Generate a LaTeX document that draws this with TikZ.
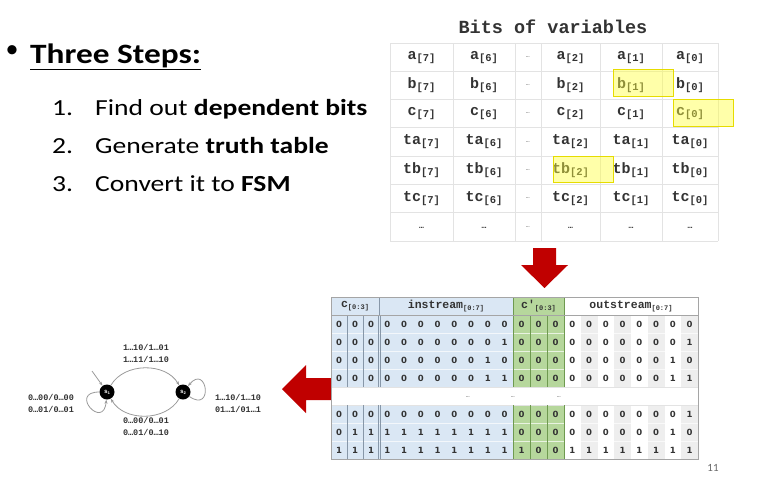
\documentclass[tikz,border=0pt]{standalone}
\usepackage{fontspec}
\setmainfont{Carlito}
\newfontfamily\codefont{Liberation Mono}
\newfontfamily\digitfont{DejaVu Sans}
\usetikzlibrary{arrows.meta,positioning}
\definecolor{gridgrey}{HTML}{E3E3E3}
\definecolor{hlyellow}{HTML}{FFFF40}
\definecolor{hlborder}{HTML}{E6DC00}
\definecolor{tblue}{HTML}{DAE7F4}
\definecolor{tgreen}{HTML}{B6D79C}
\definecolor{tgreenline}{HTML}{6F9A50}
\definecolor{tblueline}{HTML}{8797A8}
\definecolor{tstripe}{HTML}{EEEEEE}
\definecolor{tborder}{HTML}{A5A5A5}
\definecolor{arrowred}{HTML}{C00000}
\definecolor{inkgrey}{HTML}{333333}
\definecolor{fsmgrey}{HTML}{9A9A9A}

\newcommand{\bitsub}[2]{#1\raisebox{-2pt}{\fontsize{10.5}{10.5}\selectfont[#2]}}
\newcommand{\colsub}[2]{#1\raisebox{-2pt}{\fontsize{7}{7}\selectfont[#2]}}
\newcommand{\wide}[2]{\scalebox{#1}[1]{#2}}

\begin{document}
\begin{tikzpicture}[
    x=1pt, y=-1pt,
    bitcell/.style={font=\codefont\bfseries\fontsize{15}{15}\selectfont, text=inkgrey, inner sep=0pt},
    dotcell/.style={font=\codefont\bfseries\fontsize{8}{8}\selectfont, text=inkgrey, inner sep=0pt},
    hl/.style={fill=hlyellow, fill opacity=0.45, draw=hlborder, line width=0.8pt},
    grid/.style={draw=gridgrey, line width=0.8pt},
    colhead/.style={font=\codefont\bfseries\fontsize{11.5}{11.5}\selectfont, text=inkgrey, inner sep=0pt},
    digit/.style={font=\digitfont\bfseries\fontsize{8.5}{8.5}\selectfont, text=inkgrey, inner sep=0pt},
    state/.style={circle, fill=black, minimum size=15pt, inner sep=0pt, text=white,
        font=\codefont\bfseries\fontsize{6}{6}\selectfont},
    fsmarr/.style={-{Stealth[length=4pt, width=3pt]}, draw=fsmgrey, line width=0.8pt},
    fsmlabel/.style={font=\codefont\bfseries\fontsize{8.5}{12}\selectfont, text=inkgrey, align=center},
    steptext/.style={anchor=base west, inner sep=0pt, font=\fontsize{23}{26}\selectfont},
]
\useasboundingbox (0,0) rectangle (759,480);

% ── Three steps ──
\node[font=\fontsize{26}{30}\selectfont, inner sep=0pt] (bullet) at (12,52) {\textbullet};
\node[anchor=base west, inner sep=0pt, font=\fontsize{28}{30}\selectfont\bfseries] (title) at (30,63)
    {\wide{1.19}{\underline{Three Steps:}}};
\node[steptext] (num1) at (52,115) {\wide{1.2}{1.}};
\node[steptext] (step1) at (95,115) {\wide{1.2}{Find out \textbf{dependent bits}}};
\node[steptext] (num2) at (52,153) {\wide{1.2}{2.}};
\node[steptext] (step2) at (95,153) {\wide{1.2}{Generate \textbf{truth table}}};
\node[steptext] (num3) at (52,191) {\wide{1.2}{3.}};
\node[steptext] (step3) at (95,191) {\wide{1.2}{Convert it to \textbf{FSM}}};

% ── Bits of variables ──
\node[font=\codefont\bfseries\fontsize{18.5}{18.5}\selectfont, text=inkgrey, anchor=base] (bitstitle) at (553,33) {Bits of variables};
\foreach \x in {390,453,515,541,600,662,718}
    \draw[grid] (\x,43) -- (\x,241);
\foreach \i in {0,...,7}
    \draw[grid] (390,{43+28.29*\i}) -- (718,{43+28.29*\i});
\foreach \v [count=\r] in {a,b,c,ta,tb,tc} {
    \foreach \b/\cx in {7/421.5,6/484,2/570.5,1/631,0/690}
        \node[bitcell] (bit-\v-\b) at (\cx,{28.29*\r+28.8}) {\bitsub{\v}{\b}};
    \node[dotcell, font=\codefont\fontsize{6}{6}\selectfont] (bit-\v-mid) at (528,{28.29*\r+28.8}) {\ldots};
}
\foreach \cx [count=\k] in {421.5,484,570.5,631,690}
    \node[dotcell] (bit-end-\k) at (\cx,228) {\ldots};
\node[dotcell, font=\codefont\fontsize{6}{6}\selectfont] (bit-end-mid) at (528,227) {\ldots};

% highlighted bits
\draw[hl] (613,69) rectangle (673,96);
\draw[hl] (673,99) rectangle (733,126);
\draw[hl] (553,156) rectangle (613,182);

% ── Arrows between steps ──
\fill[arrowred] (533,248) -- (556,248) -- (556,265) -- (568,265) -- (544.5,288)
    -- (521,265) -- (533,265) -- cycle;
\fill[arrowred] (331,378) -- (331,400) -- (306,400) -- (306,413) -- (282,389)
    -- (306,365) -- (306,378) -- cycle;

% ── Truth table ──
\fill[tblue] (331,297) rectangle (513,459);
\fill[tgreen] (513,297) rectangle (564,459);
\foreach \k in {2,4,6,8} {
    \fill[tstripe] ({564+16.75*(\k-1)},315) rectangle ({564+16.75*\k},387);
    \fill[tstripe] ({564+16.75*(\k-1)},405) rectangle ({564+16.75*\k},459);
}
\fill[white] (331,387) rectangle (698,405);
\foreach \y in {333,351,369,423,441}
    \draw[white, opacity=0.7, line width=0.8pt] (331,\y) -- (698,\y);
\draw[gridgrey, line width=0.8pt] (331,387) -- (698,387) (331,405) -- (698,405);

% column rules
\foreach \y/\yy in {315/387,405/459} {
    \draw[tblueline, line width=0.7pt] (347,\y) -- (347,\yy) (363,\y) -- (363,\yy)
        (378,\y) -- (378,\yy) (380.5,\y) -- (380.5,\yy);
    \draw[tgreenline, line width=0.7pt] (530,\y) -- (530,\yy) (547,\y) -- (547,\yy);
}
\draw[tblueline, line width=0.7pt] (379,297) -- (379,315);
\draw[tgreenline, line width=0.8pt] (513,297) -- (513,387) (513,405) -- (513,459)
    (564,297) -- (564,387) (564,405) -- (564,459);
\draw[tborder, line width=0.8pt] (331,315) -- (698,315);
\draw[tborder, line width=0.8pt] (331,297) rectangle (698,459);

% header
\node[colhead] (hd-c) at (355,306) {\colsub{c}{0:3}};
\node[colhead] (hd-in) at (446,306) {\colsub{instream}{0:7}};
\node[colhead] (hd-cn) at (538.5,306) {\colsub{c'}{0:3}};
\node[colhead] (hd-out) at (631,306) {\colsub{outstream}{0:7}};

% rows
\foreach \ry/\bits in {
    324/{0,0,0, 0,0,0,0,0,0,0,0, 0,0,0, 0,0,0,0,0,0,0,0},
    342/{0,0,0, 0,0,0,0,0,0,0,1, 0,0,0, 0,0,0,0,0,0,0,1},
    360/{0,0,0, 0,0,0,0,0,0,1,0, 0,0,0, 0,0,0,0,0,0,1,0},
    378/{0,0,0, 0,0,0,0,0,0,1,1, 0,0,0, 0,0,0,0,0,0,1,1},
    414/{0,0,0, 0,0,0,0,0,0,0,0, 0,0,0, 0,0,0,0,0,0,0,1},
    432/{0,1,1, 1,1,1,1,1,1,1,1, 0,0,0, 0,0,0,0,0,0,1,0},
    450/{1,1,1, 1,1,1,1,1,1,1,1, 1,0,0, 1,1,1,1,1,1,1,1}} {
    \foreach \d [count=\k] in \bits {
        \pgfmathsetmacro{\cx}{\k<4 ? 323+16*\k : (\k<12 ? 320.375+16.75*\k : (\k<15 ? 317.5+17*\k : 321.125+16.75*\k))}
        \node[digit] (tt-\ry-\k) at (\cx,\ry) {\d};
    }
}
\foreach \cx [count=\k] in {468,513,559}
    \node[dotcell, font=\codefont\fontsize{6}{6}\selectfont] (tt-sep-\k) at (\cx,397) {\ldots};

% ── FSM ──
\node[state] (s1) at (107,392) {s\raisebox{-1pt}{\fontsize{4}{4}\selectfont 1}};
\node[state] (s2) at (183,392) {s\raisebox{-1pt}{\fontsize{4}{4}\selectfont 2}};
\coordinate (init) at (92,371);
\draw[fsmarr] (init) -- (s1);
\draw[fsmarr] (s1) to[out=60, in=120] (s2);
\draw[fsmarr] (s2) to[out=-120, in=-60] (s1);
\draw[fsmarr] (s1) to[out=180, in=265, distance=31pt] (s1);
\draw[fsmarr] (s2) to[out=-35, in=50, distance=30pt] (s2);
\node[fsmlabel] (lbl-top) at (146,353) {1\ldots10/1\ldots01\\1\ldots11/1\ldots10};
\node[fsmlabel] (lbl-left) at (51,403) {0\ldots00/0\ldots00\\0\ldots01/0\ldots01};
\node[fsmlabel] (lbl-right) at (238,403) {1\ldots10/1\ldots10\\01\ldots1/01\ldots1};
\node[fsmlabel] (lbl-bottom) at (146,426) {0\ldots00/0\ldots01\\0\ldots01/0\ldots10};

% ── Page number ──
\node[font=\fontsize{11}{11}\selectfont, text=black!60] (pagenum) at (713,468) {11};

\end{tikzpicture}
\end{document}
